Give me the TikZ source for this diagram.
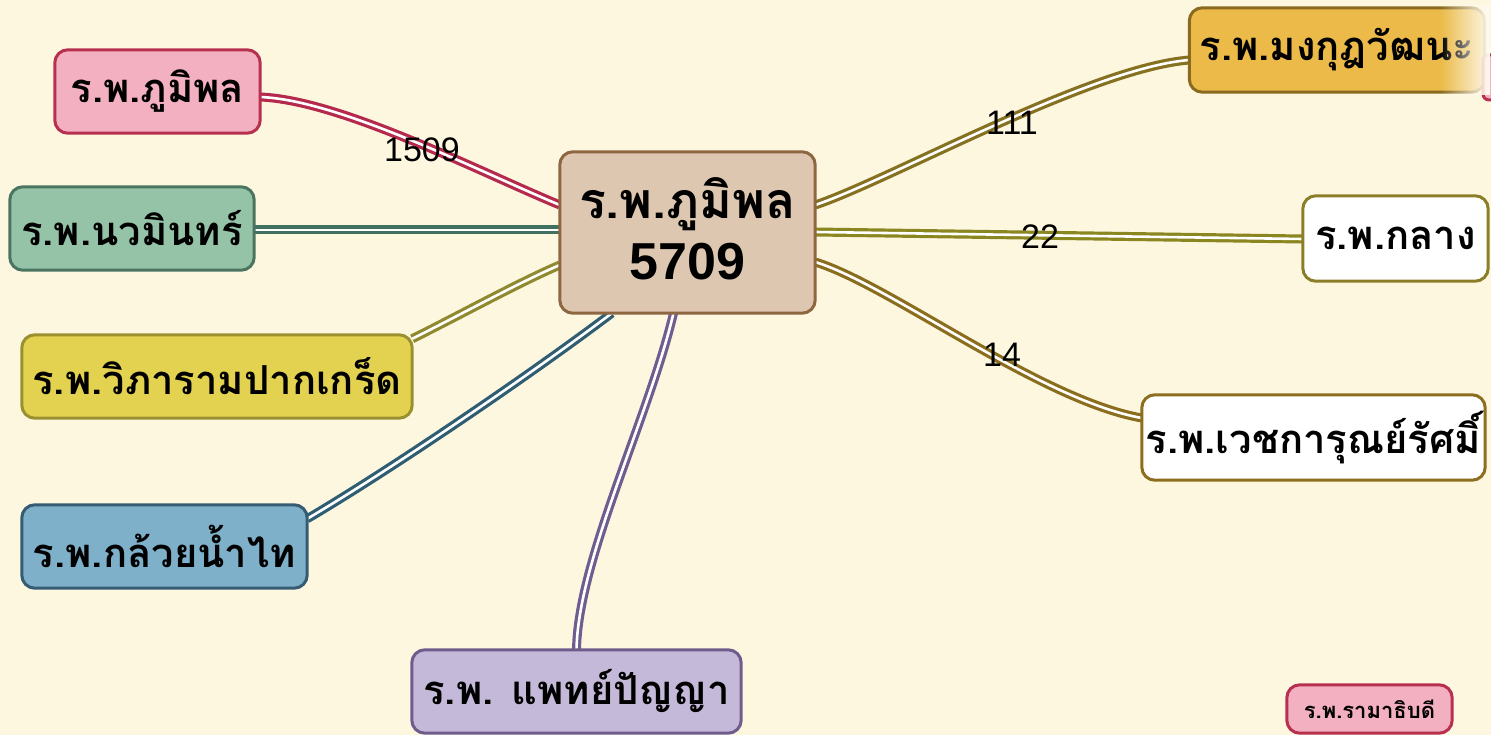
\documentclass[tikz,border=0pt]{standalone}
\usepackage{fontspec}
\setmainfont{Liberation Sans}
\newfontfamily\thaifont[Script=Thai]{Loma}
\usetikzlibrary{backgrounds,fadings}
\definecolor{bgc}{HTML}{FDF7E0}
\definecolor{pinkF}{HTML}{F3B0C0}\definecolor{pinkD}{HTML}{B8304F}
\definecolor{greenF}{HTML}{95C3A7}\definecolor{greenD}{HTML}{4A7560}
\definecolor{yellowF}{HTML}{E3D24F}\definecolor{yellowD}{HTML}{9A9030}
\definecolor{blueF}{HTML}{7EB0CA}\definecolor{blueD}{HTML}{355C72}
\definecolor{purpleF}{HTML}{C5B9D9}\definecolor{purpleD}{HTML}{6E5C8C}
\definecolor{centerF}{HTML}{DDC7B1}\definecolor{centerD}{HTML}{8E6640}
\definecolor{orangeF}{HTML}{EBBA48}\definecolor{orangeD}{HTML}{8A6A1E}
\definecolor{whiteD}{HTML}{8C7E28}\definecolor{whiteDb}{HTML}{8C6E1E}
\definecolor{cPink}{HTML}{B52A4C}\definecolor{cGreen}{HTML}{3F7060}
\definecolor{cYellow}{HTML}{8F8A2E}\definecolor{cBlue}{HTML}{2F5D72}
\definecolor{cPurple}{HTML}{6F5D8F}\definecolor{cA}{HTML}{85711F}
\definecolor{cB}{HTML}{8A8620}\definecolor{cC}{HTML}{8A6E1E}
\newcommand\rbox[3]{\filldraw[fill=#2,draw=#3,line width=3] (#1.north) [rounded corners=13] -- (#1.north east) -- (#1.south east) -- (#1.south west) -- (#1.north west) [rounded corners=3] -- cycle;}
\tikzset{
  hosp/.style={inner sep=0, minimum height=83, font=\thaifont\bfseries\fontsize{40}{44}\selectfont},
  link/.style={draw=#1, line width=3.2, double=white, double distance=2.6},
  num/.style={font=\fontsize{34}{36}\selectfont, text=black}
}
\begin{document}
\begin{tikzpicture}[x=1pt,y=-1pt]
\path[use as bounding box] (0,0) rectangle (1491,735);
\clip (0,0) rectangle (1491,735);
% nodes (text)
\node[hosp, minimum width=205] (bhumi) at (157.5,91.5) {ร.พ.ภูมิพล};
\node[hosp, minimum width=244] (nawa) at (132,228.5) {ร.พ.นวมินทร์};
\node[hosp, minimum width=390] (wipa) at (217,376.5) {ร.พ.วิภารามปากเกร็ด};
\node[hosp, minimum width=285] (kluay) at (164.5,546.5) {ร.พ.กล้วยน้ำไท};
\node[hosp, minimum width=329] (paet) at (576.5,691.5) {ร.พ. แพทย์ปัญญา};
\node[inner sep=0, minimum width=255, minimum height=161] (hub) at (687.5,232.5) {};
\node[font=\thaifont\bfseries\fontsize{50}{56}\selectfont, inner sep=0] (hubname) at (687.5,204) {ร.พ.ภูมิพล};
\node[font=\bfseries\fontsize{52}{56}\selectfont, inner sep=0] (hubnum) at (687.5,262) {5709};
\node[hosp, minimum width=295, minimum height=84] (mong) at (1337,50) {ร.พ.มงกุฎวัฒนะ};
\node[hosp, minimum width=185, minimum height=85] (klang) at (1395.5,238.5) {ร.พ.กลาง};
\node[hosp, minimum width=343, minimum height=85] (wech) at (1313.5,437.5) {ร.พ.เวชการุณย์รัศมิ์};
\node[hosp, minimum width=165, minimum height=48, font=\thaifont\bfseries\fontsize{22}{24}\selectfont] (rama) at (1369.5,709) {ร.พ.รามาธิบดี};
\coordinate (fragA) at (1483,55);
\coordinate (fragB) at (1560,100);
% labels
\node[num] (l1509) at (422,150) {1509};
\node[num] (l111) at (1012,123) {111};
\node[num] (l22) at (1040,237) {22};
\node[num] (l14) at (1002,355) {14};
\begin{scope}[on background layer]
\fill[bgc] (0,0) rectangle (1491,735);
% connectors
\draw[link=cPink] (bhumi.east |- 0,97) .. controls (340,100) and (480,172) .. (hub.west |- 0,205);
\draw[link=cGreen] (nawa.east |- 0,230) -- (hub.west |- 0,230);
\draw[link=cYellow] ([yshift=-4]wipa.north east) .. controls (460,315) and (520,282) .. (hub.west |- 0,265);
\draw[link=cBlue] ([yshift=-14]kluay.north east) .. controls (390,470) and (530,375) .. ([xshift=52]hub.south west);
\draw[link=cPurple] (paet.north) .. controls (578,560) and (648,420) .. ([xshift=-14]hub.south);
\draw[link=cA] (hub.east |- 0,205) .. controls (890,180) and (1090,68) .. (mong.west |- 0,60);
\draw[link=cB] (hub.east |- 0,232) -- (klang.west |- 0,239);
\draw[link=cC] (hub.east |- 0,262) .. controls (890,285) and (1040,400) .. (wech.west |- 0,418);
% boxes
\rbox{bhumi}{pinkF}{pinkD}
\rbox{nawa}{greenF}{greenD}
\rbox{wipa}{yellowF}{yellowD}
\rbox{kluay}{blueF}{blueD}
\rbox{paet}{purpleF}{purpleD}
\rbox{hub}{centerF}{centerD}
\rbox{mong}{orangeF}{orangeD}
\rbox{klang}{white}{whiteD}
\rbox{wech}{white}{whiteDb}
\rbox{rama}{pinkF}{pinkD}
\filldraw[fill=pinkF,draw=pinkD,line width=3,rounded corners=6] (fragA) rectangle (fragB);
\end{scope}
\fill[bgc!60!white, path fading=west] (1440,5) rectangle (1490,95);
\end{tikzpicture}
\end{document}
